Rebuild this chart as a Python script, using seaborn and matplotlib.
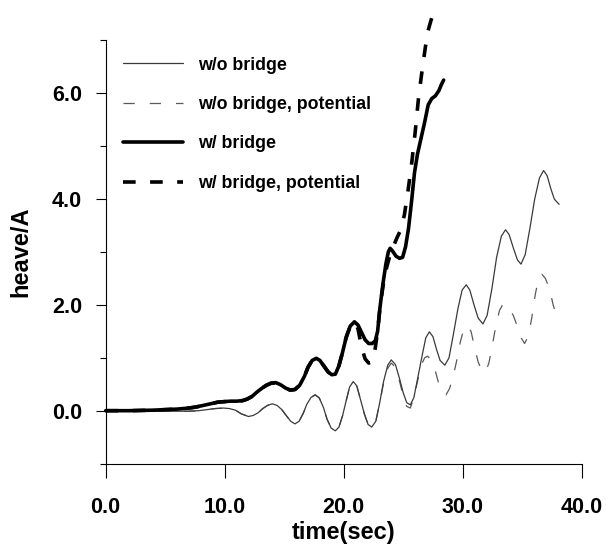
import matplotlib
matplotlib.use("Agg")
import matplotlib.pyplot as plt
import seaborn as sns

# heave response without the bridge (full model)
t_nob = [0, 2, 4, 6, 7, 7.8, 8.5, 9.2, 9.9, 10.4, 10.9, 11.4, 12.0, 12.4, 12.8, 13.2, 13.6,
         14.0, 14.4, 14.8, 15.2, 15.55, 15.9, 16.25, 16.6, 16.9, 17.25, 17.6, 17.95, 18.3,
         18.6, 18.95, 19.3, 19.6, 19.9, 20.2, 20.5, 20.8, 21.1, 21.4, 21.75, 22.05, 22.35,
         22.7, 23.0, 23.35, 23.7, 24.0, 24.35, 24.7, 25.0, 25.3, 25.6, 25.9, 26.25, 26.6,
         26.9, 27.2, 27.5, 27.8, 28.1, 28.5, 28.85, 29.2, 29.6, 29.95, 30.3, 30.6, 30.95,
         31.3, 31.7, 32.05, 32.45, 32.85, 33.25, 33.6, 33.9, 34.25, 34.6, 34.9, 35.25,
         35.65, 36.05, 36.45, 36.8, 37.1, 37.4, 37.7, 38.1]
h_nob = [0, -0.01, -0.01, -0.01, -0.01, 0.0, 0.02, 0.04, 0.05, 0.04, 0.01, -0.06, -0.11,
         -0.09, -0.04, 0.04, 0.10, 0.13, 0.10, 0.02, -0.10, -0.20, -0.25, -0.20, -0.05,
         0.12, 0.25, 0.30, 0.24, 0.06, -0.16, -0.33, -0.38, -0.31, -0.10, 0.18, 0.45, 0.55,
         0.47, 0.22, -0.07, -0.26, -0.31, -0.20, 0.12, 0.55, 0.86, 0.96, 0.87, 0.60, 0.34,
         0.15, 0.11, 0.25, 0.65, 1.05, 1.38, 1.49, 1.40, 1.16, 0.95, 0.86, 1.00, 1.42, 1.93,
         2.28, 2.38, 2.28, 2.00, 1.75, 1.64, 1.80, 2.30, 2.90, 3.30, 3.42, 3.33, 3.08, 2.85,
         2.77, 2.95, 3.45, 4.00, 4.40, 4.54, 4.44, 4.20, 4.00, 3.90]

# heave response without the bridge (potential theory)
t_nob_pot = [0, 2, 4, 6, 7, 7.8, 8.5, 9.2, 9.9, 10.4, 10.9, 11.4, 12.0, 12.4, 12.8, 13.2,
             13.6, 14.0, 14.4, 14.8, 15.2, 15.55, 15.9, 16.25, 16.6, 16.9, 17.25, 17.6,
             17.95, 18.3, 18.6, 18.95, 19.3, 19.6, 19.9, 20.2, 20.5, 20.8, 21.1, 21.4,
             21.75, 22.05, 22.35, 22.7, 23.0, 23.35, 23.7, 24.0, 24.35, 24.7, 25.0, 25.3,
             25.6, 25.9, 26.2, 26.5, 26.8, 27.05, 27.4, 27.7, 28.0, 28.3, 28.6, 28.9, 29.2,
             29.5, 29.8, 30.1, 30.4, 30.7, 31.0, 31.3, 31.6, 31.9, 32.2, 32.5, 32.8, 33.1,
             33.4, 33.7, 34.0, 34.25, 34.5, 34.85, 35.2, 35.5, 35.8, 36.1, 36.4, 36.65,
             36.95, 37.3, 37.6, 37.85, 38.0]
h_nob_pot = [0, -0.01, -0.01, -0.01, -0.01, 0.0, 0.02, 0.04, 0.05, 0.04, 0.01, -0.06, -0.11,
             -0.09, -0.04, 0.04, 0.10, 0.13, 0.10, 0.02, -0.10, -0.20, -0.25, -0.20, -0.05,
             0.12, 0.25, 0.30, 0.24, 0.06, -0.16, -0.33, -0.38, -0.31, -0.10, 0.18, 0.45,
             0.55, 0.47, 0.22, -0.07, -0.26, -0.31, -0.20, 0.12, 0.52, 0.80, 0.90, 0.82,
             0.55, 0.28, 0.08, 0.05, 0.25, 0.55, 0.85, 1.00, 1.03, 0.95, 0.75, 0.50, 0.35,
             0.30, 0.42, 0.65, 0.95, 1.30, 1.55, 1.61, 1.50, 1.20, 0.92, 0.77, 0.72, 0.90,
             1.25, 1.62, 1.90, 2.02, 1.98, 1.90, 1.80, 1.65, 1.40, 1.27, 1.40, 1.75, 2.20,
             2.52, 2.58, 2.50, 2.30, 2.00, 1.82, 1.75]

# heave response with the bridge (full model)
t_br = [0, 2, 4, 5, 6, 7, 7.6, 8.2, 8.8, 9.4, 9.9, 10.5, 11.0, 11.5, 11.9, 12.3, 12.7,
        13.1, 13.5, 13.9, 14.3, 14.7, 15.1, 15.5, 15.9, 16.3, 16.7, 17.0, 17.35, 17.7,
        18.0, 18.35, 18.7, 19.0, 19.3, 19.6, 19.9, 20.2, 20.55, 20.9, 21.2, 21.5, 21.8,
        22.1, 22.4, 22.65, 22.85, 23.05, 23.3, 23.55, 23.75, 23.9, 24.1, 24.4, 24.7,
        24.95, 25.2, 25.45, 25.7, 25.95, 26.2, 26.5, 26.8, 27.1, 27.4, 27.7, 28.0, 28.2,
        28.4]
h_br = [0, 0.0, 0.01, 0.02, 0.03, 0.05, 0.07, 0.10, 0.13, 0.16, 0.17, 0.18, 0.18, 0.19,
        0.22, 0.27, 0.35, 0.42, 0.48, 0.52, 0.53, 0.49, 0.43, 0.39, 0.40, 0.48, 0.65,
        0.82, 0.95, 0.99, 0.95, 0.84, 0.73, 0.68, 0.69, 0.85, 1.10, 1.38, 1.60, 1.68,
        1.62, 1.48, 1.34, 1.27, 1.27, 1.32, 1.50, 1.95, 2.40, 2.78, 3.00, 3.07, 3.02,
        2.92, 2.88, 2.90, 3.10, 3.45, 3.95, 4.50, 4.85, 5.15, 5.45, 5.78, 5.90, 5.95,
        6.05, 6.16, 6.25]

# heave response with the bridge (potential theory)
t_br_pot = [0, 2, 4, 5, 6, 7, 7.6, 8.2, 8.8, 9.4, 9.9, 10.5, 11.0, 11.5, 11.9, 12.3, 12.7,
            13.1, 13.5, 13.9, 14.3, 14.7, 15.1, 15.5, 15.9, 16.3, 16.7, 17.0, 17.35, 17.7,
            18.0, 18.35, 18.7, 19.0, 19.3, 19.6, 19.9, 20.2, 20.55, 20.9, 21.2, 21.5,
            21.8, 22.1, 22.35, 22.6, 22.85, 23.05, 23.3, 23.6, 23.9, 24.2, 24.5, 24.8,
            25.1, 25.4, 25.7, 26.0, 26.3, 26.6, 26.85, 27.05, 27.3, 27.5]
h_br_pot = [0, 0.0, 0.01, 0.02, 0.03, 0.05, 0.07, 0.10, 0.13, 0.16, 0.17, 0.18, 0.18, 0.19,
            0.22, 0.27, 0.35, 0.42, 0.48, 0.52, 0.53, 0.49, 0.43, 0.39, 0.40, 0.48, 0.65,
            0.82, 0.95, 0.99, 0.95, 0.84, 0.73, 0.68, 0.69, 0.85, 1.10, 1.38, 1.60, 1.68,
            1.55, 1.20, 0.98, 0.90, 0.92, 1.10, 1.50, 1.95, 2.35, 2.70, 2.95, 3.12, 3.28,
            3.42, 3.70, 4.15, 4.65, 5.25, 5.94, 6.45, 6.85, 7.15, 7.35, 7.50]

labels = ["w/o bridge", "w/o bridge, potential", "w/ bridge", "w/ bridge, potential"]
x_ticks = [0, 10, 20, 30, 40]
y_ticks = [0, 2, 4, 6]
y_minor = [-1, 1, 3, 5, 7]

sns.set_style("ticks")
plt.rcParams["font.family"] = ["Liberation Sans", "DejaVu Sans"]
plt.rcParams["font.weight"] = "bold"
plt.rcParams["text.color"] = "black"
plt.rcParams["axes.labelcolor"] = "black"

fig = plt.figure(figsize=(6.06, 5.54), dpi=100)
ax = fig.add_axes([0.1744, 0.1632, 0.7855, 0.7639])

thin_c = "#3a3a3a"
thin_dash_c = "#5a5a5a"

sns.lineplot(x=t_nob_pot, y=h_nob_pot, ax=ax, color=thin_dash_c, lw=0.9,
             linestyle=(0, (9, 12)), sort=False, label=labels[1])
sns.lineplot(x=t_br_pot, y=h_br_pot, ax=ax, color="black", lw=2.6,
             linestyle=(0, (3.5, 4)), sort=False, label=labels[3])
sns.lineplot(x=t_nob, y=h_nob, ax=ax, color=thin_c, lw=0.9, sort=False, label=labels[0])
sns.lineplot(x=t_br, y=h_br, ax=ax, color="black", lw=2.6, sort=False, label=labels[2])

for ln in ax.get_lines():
    ln.set_clip_on(False)
    ln.set_solid_joinstyle("round")
    ln.set_dash_joinstyle("round")

ax.set_xlim(0, 40)
ax.set_ylim(-1, 7)
ax.set_xticks(x_ticks)
ax.set_xticklabels([f"{v:.1f}" for v in x_ticks])
ax.set_yticks(y_ticks)
ax.set_yticklabels([f"{v:.1f}" for v in y_ticks])
ax.set_yticks(y_minor, minor=True)

ax.tick_params(axis="x", which="major", direction="out", length=10, width=0.8,
               pad=14, labelsize=15.5, colors="black")
ax.tick_params(axis="y", which="major", direction="out", length=7, width=0.8,
               pad=10, labelsize=15.5, colors="black")
ax.tick_params(axis="y", which="minor", direction="out", length=4, width=0.8,
               colors="black")
for lab in ax.get_xticklabels() + ax.get_yticklabels():
    lab.set_fontweight("bold")

for side in ("top", "right"):
    ax.spines[side].set_visible(False)
for side in ("left", "bottom"):
    ax.spines[side].set_linewidth(0.8)
    ax.spines[side].set_color("black")

ax.set_xlabel("time(sec)", fontsize=17, fontweight="bold", labelpad=2, color="black")
ax.set_ylabel("heave/A", fontsize=17, fontweight="bold", labelpad=14, color="black")

handles, labs = ax.get_legend_handles_labels()
order = [labs.index(l) for l in labels]
leg = ax.legend([handles[i] for i in order], [labs[i] for i in order],
                loc="upper left", bbox_to_anchor=(123 / 606, 1 - 56.7 / 554),
                bbox_transform=fig.transFigure, frameon=False,
                prop={"size": 12.8, "weight": "bold"},
                handlelength=3.4, handletextpad=0.8, labelspacing=1.26,
                borderaxespad=0, borderpad=0)
for txt in leg.get_texts():
    txt.set_color("black")

fig.savefig("out.png", dpi=100)
